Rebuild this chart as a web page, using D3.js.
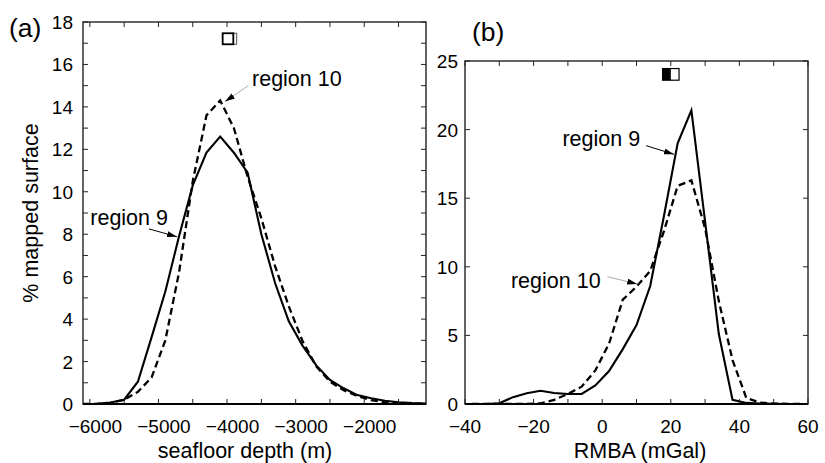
<!DOCTYPE html>
<html>
<head>
<meta charset="utf-8">
<script src="https://cdn.jsdelivr.net/npm/d3@7"></script>
<style>
  html, body { margin: 0; padding: 0; background: #fff; }
  svg { display: block; font-family: "Liberation Sans", Arial, Helvetica, sans-serif; }
</style>
</head>
<body>
<svg id="chart" width="825" height="463"></svg>
<script>
// Depth histogram (panel a): bin centres in metres, % of mapped surface
const depthBins = [-6100, -5900, -5700, -5500, -5300, -5100, -4900, -4700, -4500, -4300, -4100,
  -3900, -3700, -3500, -3300, -3100, -2900, -2700, -2500, -2300, -2100, -1900, -1700, -1500, -1300, -1100];
const region9Depth = [0, 0.01, 0.07, 0.2, 1.05, 3.15, 5.3, 7.9, 10.3, 11.85, 12.6,
  11.84, 10.9, 8.0, 5.7, 3.9, 2.75, 1.82, 1.13, 0.74, 0.42, 0.27, 0.15, 0.08, 0.04, 0.02];
const region10Depth = [0, 0, 0.05, 0.2, 0.57, 1.25, 3.0, 6.2, 10.5, 13.6, 14.3,
  13.0, 10.7, 8.75, 6.5, 4.6, 2.97, 1.77, 1.05, 0.65, 0.38, 0.18, 0.08, 0.04, 0.02, 0.01];

// RMBA histogram (panel b): bin centres in mGal
const rmbaBins = [-38, -34, -30, -26, -22, -18, -14, -10, -6, -2, 2, 6, 10, 14, 18, 22, 26,
  30, 34, 38, 42, 46, 50, 54, 58];
const region9Rmba = [0, 0, 0.05, 0.5, 0.78, 0.97, 0.8, 0.73, 0.73, 1.35, 2.4, 4.0, 5.75, 8.6,
  13.7, 19.0, 21.4, 13.3, 5.1, 0.3, 0.08, 0.03, 0.01, 0, 0];
const region10Rmba = [0, 0, 0, 0, 0, 0.05, 0.3, 0.73, 1.26, 2.45, 4.4, 7.6, 8.55, 9.7,
  12.6, 15.9, 16.3, 12.8, 7.5, 3.2, 0.45, 0.1, 0.03, 0.01, 0];

// Axis ticks and labels
const depthTicks = d3.range(-6000, -1100, 500);
const depthLabels = [-6000, -5000, -4000, -3000, -2000];
const pctTicksA = d3.range(0, 19, 1);
const pctLabelsA = d3.range(0, 19, 2);
const rmbaTicks = d3.range(-40, 61, 10);
const rmbaLabels = [-40, -20, 0, 20, 40, 60];
const pctTicksB = [0, 5, 10, 15, 20, 25];

// Median-range markers drawn above each peak
const markerA = { x0: -4064, x1: -3909, x2: -3860, y0: 16.95, y1: 17.47 };
const markerB = { x0: 17.6, xm: 20, x1: 22.4, y0: 23.6, y1: 24.45 };

// Callouts: text anchor and arrow from/to, in data units
const calloutsA = [
  { text: "region 10", tx: -3636, ty: 15.0, ax: -3690, ay: 15.0, bx: -4030, by: 14.25, grey: true },
  { text: "region 9", tx: -5994, ty: 8.44, ax: -5138, ay: 8.25, bx: -4730, by: 7.88, grey: false }
];
const calloutsB = [
  { text: "region 9", tx: -11.6, ty: 18.83, ax: 12.8, ay: 18.83, bx: 20.9, by: 18.2, grey: false },
  { text: "region 10", tx: -26.6, ty: 8.48, ax: 1.5, ay: 9.28, bx: 10.2, by: 8.75, grey: true }
];

const svg = d3.select("#chart");
const fmt = d3.format("d");

svg.append("defs").append("marker")
  .attr("id", "head")
  .attr("viewBox", "0 0 10 6")
  .attr("refX", 10).attr("refY", 3)
  .attr("markerWidth", 10).attr("markerHeight", 6)
  .attr("markerUnits", "userSpaceOnUse")
  .attr("orient", "auto")
  .append("path").attr("d", "M0,0 L10,3 L0,6 Z").attr("fill", "#000");

function panel(opts) {
  const x = d3.scaleLinear().domain(opts.xDomain).range(opts.xRange);
  const y = d3.scaleLinear().domain(opts.yDomain).range(opts.yRange);
  const g = svg.append("g");
  const [x0, x1] = opts.xRange, [yb, yt] = opts.yRange;
  const tl = 5;

  // curves
  const line = d3.line().x(d => x(d[0])).y(d => y(d[1]));
  const clipId = "clip" + opts.id;
  g.append("clipPath").attr("id", clipId).append("rect")
    .attr("x", x0).attr("y", yt).attr("width", x1 - x0).attr("height", yb - yt);
  g.append("path").datum(d3.zip(opts.bins, opts.dashed))
    .attr("clip-path", `url(#${clipId})`)
    .attr("d", line).attr("fill", "none").attr("stroke", "#000")
    .attr("stroke-width", 2.3).attr("stroke-dasharray", "7,4");
  g.append("path").datum(d3.zip(opts.bins, opts.solid))
    .attr("clip-path", `url(#${clipId})`)
    .attr("d", line).attr("fill", "none").attr("stroke", "#000")
    .attr("stroke-width", 2.1);

  // ticks (inward, all four sides)
  const tk = g.append("g").attr("stroke", "#222").attr("stroke-width", 1);
  opts.xTicks.forEach(v => {
    tk.append("line").attr("x1", x(v)).attr("x2", x(v)).attr("y1", yb).attr("y2", yb - tl);
    tk.append("line").attr("x1", x(v)).attr("x2", x(v)).attr("y1", yt).attr("y2", yt + tl);
  });
  opts.yTicks.forEach(v => {
    tk.append("line").attr("x1", x0).attr("x2", x0 + tl).attr("y1", y(v)).attr("y2", y(v));
    tk.append("line").attr("x1", x1).attr("x2", x1 - tl).attr("y1", y(v)).attr("y2", y(v));
  });

  // frame
  g.append("rect").attr("x", x0).attr("y", yt).attr("width", x1 - x0).attr("height", yb - yt)
    .attr("fill", "none").attr("stroke", "#222").attr("stroke-width", 1.4);
  g.append("line").attr("x1", x0).attr("x2", x1).attr("y1", yb).attr("y2", yb)
    .attr("stroke", "#000").attr("stroke-width", 2);

  // tick labels
  g.selectAll(".xl").data(opts.xLabels).join("text")
    .attr("x", d => x(d) + opts.xLabelDx).attr("y", 433)
    .attr("text-anchor", "middle").attr("font-size", 19).text(fmt);
  g.selectAll(".yl").data(opts.yLabels).join("text")
    .attr("x", x0 - opts.yLabelGap).attr("y", d => y(d) + 7)
    .attr("text-anchor", "end").attr("font-size", 19).text(fmt);

  // axis title
  g.append("text").attr("x", opts.titleX).attr("y", 458)
    .attr("text-anchor", "middle").attr("font-size", 21.5).text(opts.xTitle);

  // callouts
  opts.callouts.forEach(c => {
    g.append("line")
      .attr("x1", x(c.ax)).attr("y1", y(c.ay)).attr("x2", x(c.bx)).attr("y2", y(c.by))
      .attr("stroke", c.grey ? "#aaa" : "#000").attr("stroke-width", 1)
      .attr("marker-end", "url(#head)");
    g.append("text").attr("x", x(c.tx)).attr("y", y(c.ty))
      .attr("font-size", 21.5).text(c.text);
  });

  return { g, x, y };
}

const A = panel({
  id: "a",
  xDomain: [-6100, -1100], xRange: [83, 426],
  yDomain: [0, 18], yRange: [404, 22],
  bins: depthBins, solid: region9Depth, dashed: region10Depth,
  xTicks: depthTicks, yTicks: pctTicksA, xLabels: depthLabels, yLabels: pctLabelsA,
  xLabelDx: 5.5, yLabelGap: 10,
  xTitle: "seafloor depth (m)", titleX: 245,
  callouts: calloutsA
});

const B = panel({
  id: "b",
  xDomain: [-40, 60], xRange: [465, 808],
  yDomain: [0, 25], yRange: [404, 61],
  bins: rmbaBins, solid: region9Rmba, dashed: region10Rmba,
  xTicks: rmbaTicks, yTicks: pctTicksB, xLabels: rmbaLabels, yLabels: pctTicksB,
  xLabelDx: 0, yLabelGap: 7,
  xTitle: "RMBA (mGal)", titleX: 640,
  callouts: calloutsB
});

// marker boxes
A.g.append("rect")
  .attr("x", A.x(markerA.x1)).attr("y", A.y(markerA.y1))
  .attr("width", A.x(markerA.x2) - A.x(markerA.x1)).attr("height", A.y(markerA.y0) - A.y(markerA.y1))
  .attr("fill", "#fff").attr("stroke", "#555").attr("stroke-width", 1);
A.g.append("rect")
  .attr("x", A.x(markerA.x0)).attr("y", A.y(markerA.y1))
  .attr("width", A.x(markerA.x1) - A.x(markerA.x0)).attr("height", A.y(markerA.y0) - A.y(markerA.y1))
  .attr("fill", "#fff").attr("stroke", "#000").attr("stroke-width", 1.8);

B.g.append("rect")
  .attr("x", B.x(markerB.x0)).attr("y", B.y(markerB.y1))
  .attr("width", B.x(markerB.xm) - B.x(markerB.x0)).attr("height", B.y(markerB.y0) - B.y(markerB.y1))
  .attr("fill", "#000");
B.g.append("rect")
  .attr("x", B.x(markerB.x0)).attr("y", B.y(markerB.y1))
  .attr("width", B.x(markerB.x1) - B.x(markerB.x0)).attr("height", B.y(markerB.y0) - B.y(markerB.y1))
  .attr("fill", "none").attr("stroke", "#000").attr("stroke-width", 1.2);

// panel letters and y title
svg.append("text").attr("x", 9).attr("y", 37).attr("font-size", 26.5).text("(a)");
svg.append("text").attr("x", 472).attr("y", 41).attr("font-size", 26.5).text("(b)");
svg.append("text")
  .attr("transform", "translate(38,213) rotate(-90)")
  .attr("text-anchor", "middle").attr("font-size", 21.5).text("% mapped surface");
</script>
</body>
</html>
